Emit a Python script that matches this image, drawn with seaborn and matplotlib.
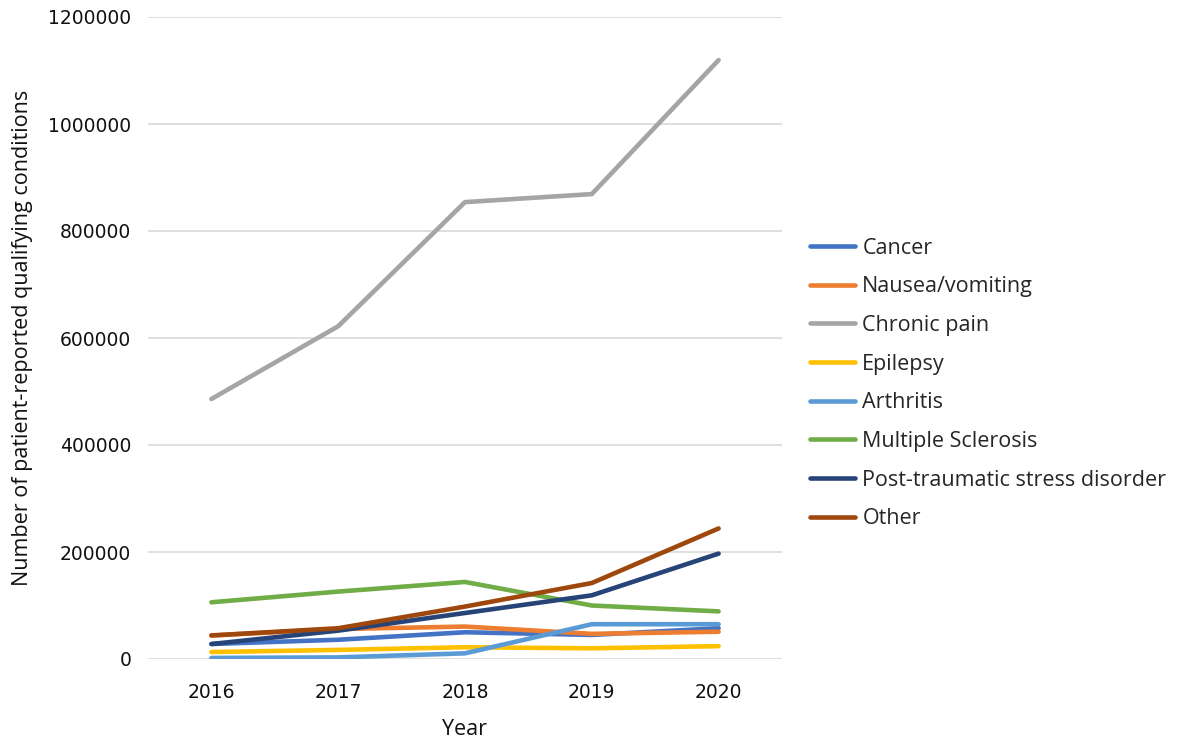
import matplotlib
matplotlib.use("Agg")
import matplotlib.pyplot as plt
import seaborn as sns
import pandas as pd

years = ["2016", "2017", "2018", "2019", "2020"]
cancer = [28000, 36000, 50000, 45000, 57500]
nausea = [44000, 56000, 60600, 47000, 51000]
chronic_pain = [486000, 622000, 854000, 869000, 1119500]
epilepsy = [13000, 17000, 22000, 20000, 24000]
arthritis = [2000, 3000, 10600, 65000, 65000]
multiple_sclerosis = [106000, 126000, 144000, 100000, 89000]
ptsd = [28000, 53000, 86000, 119000, 197000]
other = [44000, 57500, 98000, 142000, 244000]

conditions = ["Cancer", "Nausea/vomiting", "Chronic pain", "Epilepsy", "Arthritis",
              "Multiple Sclerosis", "Post-traumatic stress disorder", "Other"]
series = [cancer, nausea, chronic_pain, epilepsy, arthritis, multiple_sclerosis, ptsd, other]
colors = ["#4472C4", "#ED7D31", "#A5A5A5", "#FFC000", "#5B9BD5", "#70AD47", "#264478", "#9E480E"]

rows = []
for name, vals in zip(conditions, series):
    for i, (yr, v) in enumerate(zip(years, vals)):
        rows.append({"pos": i, "Year": yr, "Condition": name, "Count": v})
df = pd.DataFrame(rows)

sns.set_theme(style="white")
plt.rcParams["font.family"] = ["Open Sans", "DejaVu Sans"]

fig = plt.figure(figsize=(11.78, 7.44), dpi=100)
ax = fig.add_axes([148 / 1178, 1 - 659 / 744, 634 / 1178, 642 / 744])

sns.lineplot(data=df, x="pos", y="Count", hue="Condition", hue_order=conditions,
             palette=dict(zip(conditions, colors)), linewidth=3.3, ax=ax,
             legend=True, sort=False)

ax.set_xlim(-0.5, 4.5)
ax.set_ylim(0, 1200000)
ax.set_xticks(range(len(years)))
ax.set_xticklabels(years)
ax.set_yticks(range(0, 1200001, 200000))
ax.set_yticklabels([str(v) for v in range(0, 1200001, 200000)])
ax.yaxis.grid(True, color="#D9D9D9", linewidth=1.2)
ax.xaxis.grid(False)
ax.set_axisbelow(True)
for s in ax.spines.values():
    s.set_visible(False)
ax.tick_params(axis="both", length=0, colors="#111111")
for lbl in ax.get_xticklabels() + ax.get_yticklabels():
    lbl.set_family(["DejaVu Sans"])
    lbl.set_fontsize(13.5)
ax.tick_params(axis="x", pad=17)
ax.tick_params(axis="y", pad=12)
ax.set_xlabel("Year", fontsize=15.5, color="#111111")
ax.set_ylabel("Number of patient-reported qualifying conditions", fontsize=15.5,
              color="#111111")
ax.xaxis.set_label_coords(0.5, (659 - 719) / 642)
ax.yaxis.set_label_coords((33 - 148) / 634, 0.5)

handles, labels = ax.get_legend_handles_labels()
ax.legend(handles, labels, loc="upper left", bbox_to_anchor=(801 / 1178, 1 - 229 / 744),
          bbox_transform=fig.transFigure, frameon=False, fontsize=15.5,
          handlelength=2.1, handletextpad=0.35, labelspacing=0.82, borderaxespad=0)

fig.savefig("out.png", dpi=100)
